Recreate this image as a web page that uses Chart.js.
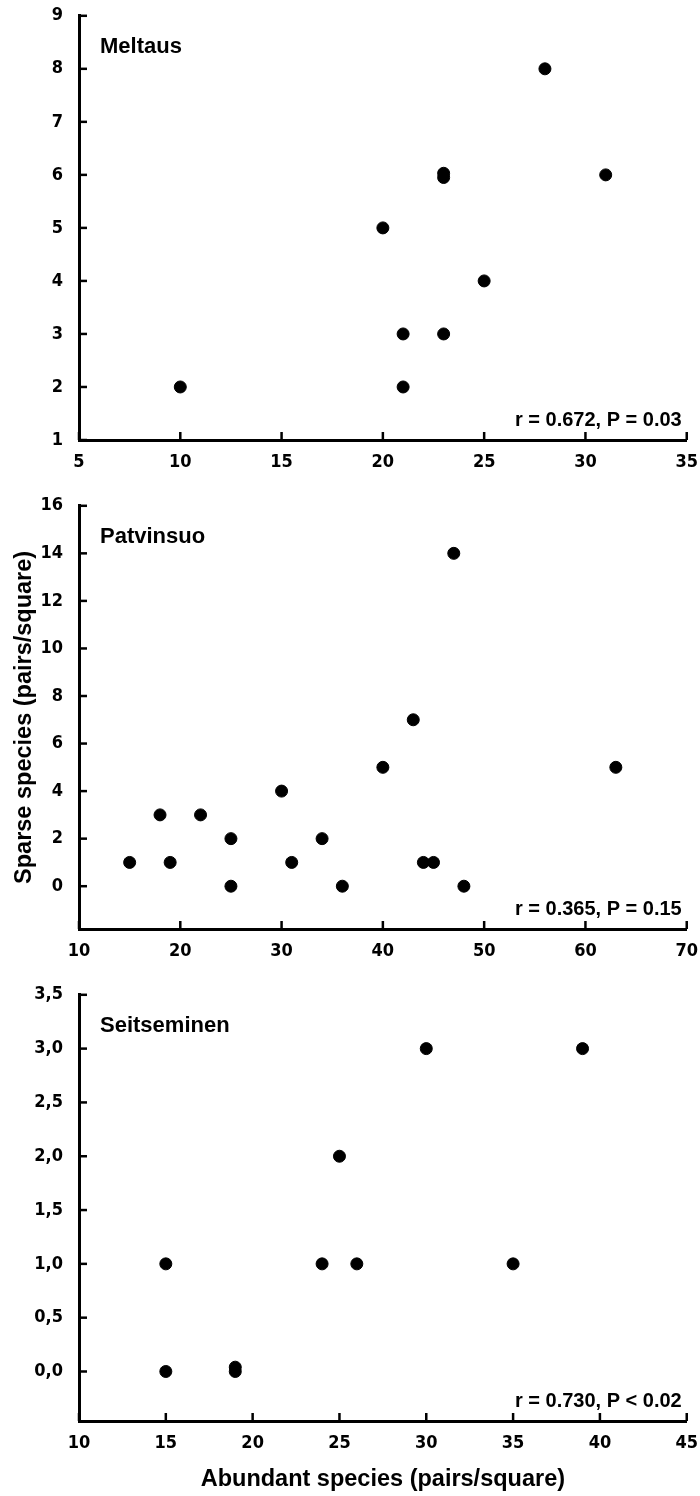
<!DOCTYPE html>
<html>
<head>
<meta charset="utf-8">
<script src="https://cdn.jsdelivr.net/npm/chart.js@4"></script>
<style>
  html, body { margin: 0; padding: 0; background: #fff; overflow: hidden; }
  #page { position: relative; width: 700px; height: 1496px; overflow: hidden; }
  .panel { position: absolute; left: 0; width: 710px; }
</style>
</head>
<body>
<div id="page">
  <div class="panel" style="top:-11px;height:491px"><canvas id="meltaus"></canvas></div>
  <div class="panel" style="top:479px;height:490px"><canvas id="patvinsuo"></canvas></div>
  <div class="panel" style="top:968px;height:530px"><canvas id="seitseminen"></canvas></div>
</div>
<script>
// Meltaus
var meltausX = [10, 20, 21, 21, 23, 23, 23, 25, 28, 31];
var meltausY = [2, 5, 2, 3, 3, 6.03, 5.95, 4, 8, 6];
var meltausXTicks = [5, 10, 15, 20, 25, 30, 35];
var meltausYTicks = [1, 2, 3, 4, 5, 6, 7, 8, 9];

// Patvinsuo
var patvinsuoX = [15, 18, 19, 22, 25, 25, 30, 31, 34, 36, 40, 43, 44, 45, 47, 48, 63];
var patvinsuoY = [1, 3, 1, 3, 2, 0, 4, 1, 2, 0, 5, 7, 1, 1, 14, 0, 5];
var patvinsuoXTicks = [10, 20, 30, 40, 50, 60, 70];
var patvinsuoYTicks = [0, 2, 4, 6, 8, 10, 12, 14, 16];

// Seitseminen
var seitseminenX = [15, 15, 19, 19, 24, 25, 26, 30, 35, 39];
var seitseminenY = [1, 0, 0, 0.04, 1, 2, 1, 3, 1, 3];
var seitseminenXTicks = [10, 15, 20, 25, 30, 35, 40, 45];
var seitseminenYTicks = [0, 0.5, 1, 1.5, 2, 2.5, 3, 3.5];

var tickFont = { family: "'Liberation Sans Narrow', 'Arial Narrow', 'DejaVu Sans Condensed', sans-serif", size: 18, weight: 'bold' };
var titleFont = { family: "'Liberation Sans', Arial, sans-serif", size: 23.5, weight: 'bold' };

// ticks pointing into the plot, like the original figure
var innerTicks = {
  id: 'innerTicks',
  afterDraw: function (chart) {
    var ctx = chart.ctx, x = chart.scales.x, y = chart.scales.y;
    ctx.save();
    ctx.strokeStyle = '#000';
    ctx.lineWidth = 2.5;
    y.ticks.forEach(function (t) {
      var py = y.getPixelForValue(t.value);
      ctx.beginPath(); ctx.moveTo(x.left, py); ctx.lineTo(x.left + 8, py); ctx.stroke();
    });
    x.ticks.forEach(function (t) {
      var px = x.getPixelForValue(t.value);
      ctx.beginPath(); ctx.moveTo(px, y.bottom); ctx.lineTo(px, y.bottom - 8); ctx.stroke();
    });
    ctx.restore();
  }
};

var panelText = {
  id: 'panelText',
  afterDraw: function (chart, args, opts) {
    var ctx = chart.ctx, a = chart.chartArea;
    ctx.save();
    ctx.fillStyle = '#000';
    ctx.textBaseline = 'middle';
    ctx.font = "bold 22px 'Liberation Sans', Arial, sans-serif";
    ctx.textAlign = 'left';
    ctx.fillText(opts.name, a.left + 21, a.top + 31);
    ctx.font = "bold 20px 'Liberation Sans', Arial, sans-serif";
    ctx.textAlign = 'right';
    ctx.fillText(opts.stat, a.right - 5, a.bottom - 20);
    ctx.restore();
  }
};

function makePanel(id, xs, ys, xTicks, yTicks, opt) {
  var points = xs.map(function (v, i) { return { x: v, y: ys[i] }; });
  return new Chart(document.getElementById(id), {
    type: 'scatter',
    data: {
      datasets: [{
        data: points,
        backgroundColor: '#000',
        borderColor: '#000',
        pointRadius: 6,
        pointHoverRadius: 6
      }]
    },
    plugins: [innerTicks, panelText],
    options: {
      responsive: true,
      maintainAspectRatio: false,
      animation: false,
      layout: { padding: { top: opt.padTop, right: 3, left: 0, bottom: 0 } },
      plugins: {
        legend: { display: false },
        tooltip: { enabled: false },
        panelText: { name: opt.name, stat: opt.stat }
      },
      scales: {
        x: {
          type: 'linear',
          min: xTicks[0],
          max: xTicks[xTicks.length - 1],
          afterBuildTicks: function (s) { s.ticks = xTicks.map(function (v) { return { value: v }; }); },
          afterFit: function (s) { s.height = opt.xHeight; },
          grid: { display: false, drawTicks: false },
          border: { display: true, color: '#000', width: 3 },
          ticks: { color: '#000', font: tickFont, padding: 12, maxRotation: 0, autoSkip: false },
          title: opt.xTitle ? { display: true, text: opt.xTitle, color: '#000', font: titleFont, padding: { top: 4, bottom: 4 } } : { display: false }
        },
        y: {
          min: opt.yMin,
          max: yTicks[yTicks.length - 1],
          afterBuildTicks: function (s) { s.ticks = yTicks.map(function (v) { return { value: v }; }); },
          afterFit: function (s) { s.width = 79; },
          grid: { display: false, drawTicks: false },
          border: { display: true, color: '#000', width: 3 },
          ticks: { color: '#000', font: tickFont, padding: 16, autoSkip: false, callback: opt.yFormat },
          title: opt.yTitle ? { display: true, text: opt.yTitle, color: '#000', font: titleFont, padding: { top: 10, bottom: 0 } } : { display: false }
        }
      }
    }
  });
}

makePanel('meltaus', meltausX, meltausY, meltausXTicks, meltausYTicks, {
  name: 'Meltaus', stat: 'r = 0.672, P = 0.03', padTop: 14, xHeight: 40, yMin: 1,
  yFormat: function (v) { return String(v); }
});
makePanel('patvinsuo', patvinsuoX, patvinsuoY, patvinsuoXTicks, patvinsuoYTicks, {
  name: 'Patvinsuo', stat: 'r = 0.365, P = 0.15', padTop: 24, xHeight: 40, yMin: -1.8,
  yTitle: 'Sparse species (pairs/square)',
  yFormat: function (v) { return String(v); }
});
makePanel('seitseminen', seitseminenX, seitseminenY, seitseminenXTicks, seitseminenYTicks, {
  name: 'Seitseminen', stat: 'r = 0.730, P < 0.02', padTop: 24, xHeight: 77, yMin: -0.46,
  xTitle: 'Abundant species (pairs/square)',
  yFormat: function (v) { return v.toFixed(1).replace('.', ','); }
});
</script>
</body>
</html>
